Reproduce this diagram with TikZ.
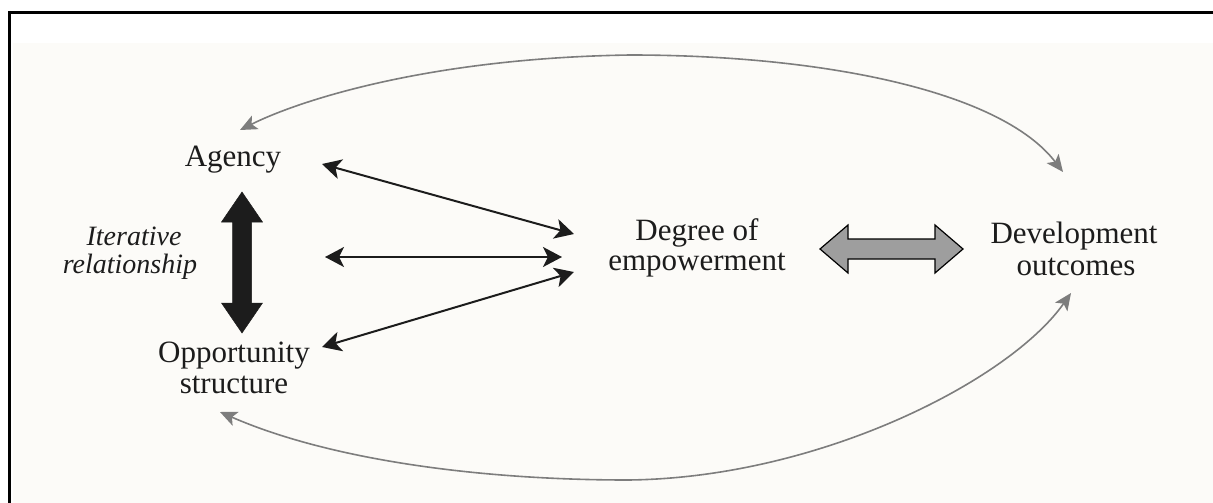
\documentclass[tikz,border=0pt]{standalone}
\usepackage{fontspec}
\setmainfont{Liberation Serif}
\usetikzlibrary{arrows.meta}
\definecolor{paper}{RGB}{252,251,248}
\definecolor{arcgray}{RGB}{125,125,125}
\definecolor{fatgray}{RGB}{158,158,158}
\definecolor{ink}{RGB}{28,28,28}
\tikzset{
  lbl/.style={font=\fontsize{31}{31}\selectfont, align=center, inner sep=0pt, text=ink},
  itl/.style={font=\fontsize{28}{28}\selectfont\itshape, align=center, inner sep=0pt, text=ink},
  link/.style={ink, line width=2pt, {Stealth[length=19pt,width=20pt,inset=5pt]}-{Stealth[length=19pt,width=20pt,inset=5pt]}},
  arcline/.style={arcgray, line width=1.6pt, {Stealth[length=17pt,width=15pt,inset=4pt]}-{Stealth[length=17pt,width=15pt,inset=4pt]}},
  fatblack/.style={fill=ink, draw=ink, line width=0.5pt},
  fatgrey/.style={fill=fatgray, draw=black, line width=1.2pt, line join=miter},
}
\begin{document}
\begin{tikzpicture}[x=1pt,y=-1pt]
\useasboundingbox (0,0) rectangle (1213,503);
\fill[white] (0,0) rectangle (1213,503);
\fill[paper] (13,43) rectangle (1213,503);
% frame
\draw[black, line width=3pt] (8,12.5) -- (1213,12.5);
\draw[black, line width=3pt] (9.5,11) -- (9.5,503);

% texts
\node[lbl, anchor=base] (agency) at (233,166) {Agency};
\node[itl, anchor=base] (iter1) at (134,245) {Iterative};
\node[itl, anchor=base] (iter2) at (130,273) {relationship};
\node[lbl, anchor=base] (opp1) at (234,362) {Opportunity};
\node[lbl, anchor=base] (opp2) at (234,393) {structure};
\node[lbl, anchor=base] (deg1) at (697,240) {Degree of};
\node[lbl, anchor=base] (deg2) at (697,270) {empowerment};
\node[lbl, anchor=base] (dev1) at (1074,243) {Development};
\node[lbl, anchor=base] (dev2) at (1076,275) {outcomes};

% connector end points
\coordinate (a1) at (322,164);
\coordinate (d1) at (574,234);
\coordinate (a2) at (325,257);
\coordinate (d2) at (562,257);
\coordinate (a3) at (322,347);
\coordinate (d3) at (574,272);

\draw[link] (a1) -- (d1);
\draw[link] (a2) -- (d2);
\draw[link] (a3) -- (d3);

% thick black vertical double arrow
\coordinate (vt) at (242,192);
\coordinate (vb) at (242,333);
\path[fatblack] (vt) -- (262.5,222) -- (251.5,222) -- (251.5,303) -- (262.5,303)
  -- (vb) -- (221.5,303) -- (232.5,303) -- (232.5,222) -- (221.5,222) -- cycle;

% grey double arrow
\coordinate (gl) at (820,249);
\coordinate (gr) at (963,249);
\path[fatgrey] (gl) -- (848,225) -- (848,239) -- (935,239) -- (935,225) -- (gr)
  -- (935,273) -- (935,259) -- (848,259) -- (848,273) -- cycle;

% arcs
\coordinate (ta) at (240,130);
\coordinate (tt) at (630,55);
\coordinate (tb) at (1063,172);
\draw[arcline] (ta) .. controls (300,100) and (430,58) .. (tt) .. controls (820,55) and (1000,90) .. (tb);
\coordinate (ba) at (220,412);
\coordinate (bt) at (628,480);
\coordinate (bb) at (1071,293);
\draw[arcline] (ba) .. controls (330,460) and (480,480) .. (bt) .. controls (820,478) and (1010,380) .. (bb);
\end{tikzpicture}
\end{document}
